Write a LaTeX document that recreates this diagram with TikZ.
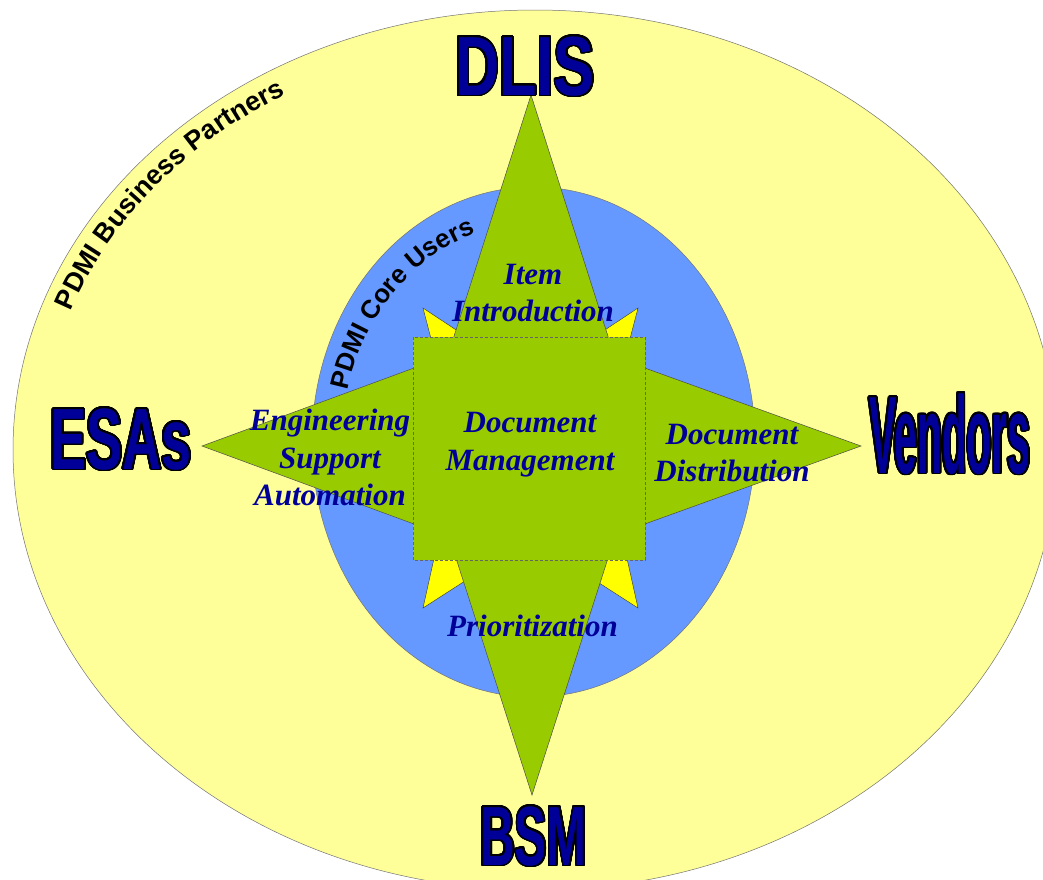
\documentclass[tikz,border=0pt]{standalone}
\usepackage{fontspec}
\setmainfont{Liberation Serif}
\setsansfont{Liberation Sans}
\usepackage[copies]{contour}
\usetikzlibrary{decorations.text}

\definecolor{partner}{HTML}{FFFF99}
\definecolor{core}{HTML}{6699FF}
\definecolor{leaf}{HTML}{99CC00}
\definecolor{flash}{HTML}{FFFF00}
\definecolor{navy}{HTML}{000099}
\contournumber{32}
\newcommand{\bigname}[3]{\fontsize{#1}{#1}\selectfont\contourlength{1.8pt}\contour{black}{\scalebox{#2}[1]{#3}}}
\newcommand{\heavy}[1]{\contourlength{0.9pt}\contour{black}{#1}}

\begin{document}
\begin{tikzpicture}[
  x=1pt,y=-1pt,
  zone/.style={draw=black!55,line width=0.5pt},
  arm/.style={draw=black!70,fill=leaf,line width=0.5pt},
  flare/.style={draw=black!80,fill=flash,line width=0.4pt},
  role/.style={font=\bfseries\itshape\fontsize{31}{37.5}\selectfont,text=navy,align=center,inner sep=0pt},
  party/.style={font=\sffamily\bfseries,text=navy,anchor=base,inner sep=0pt}
]
\useasboundingbox (0,0) rectangle (1043,879);
\clip (0,0) rectangle (1043,879);

\draw[zone,fill=partner] (535,450) ellipse[x radius=522,y radius=440];
\draw[zone,fill=core] (533.5,442) ellipse[x radius=221.5,y radius=255];

\path[decorate,decoration={text along path,text align=center,
  text={|\sffamily\bfseries\fontsize{27}{27}\selectfont\heavy|PDMI Business Partners}}]
  (535,450) ++(189:493 and 412) arc[start angle=189,end angle=249,x radius=493,y radius=412];
\path[decorate,decoration={text along path,text align=center,
  text={|\sffamily\bfseries\fontsize{26}{26}\selectfont\heavy|PDMI Core Users}}]
  (533.5,442) ++(186:191 and 219) arc[start angle=186,end angle=261,x radius=191,y radius=219];

\draw[flare] (423,308) -- (447,400) -- (500,359) -- cycle;
\draw[flare] (638,308) -- (614,400) -- (561,359) -- cycle;
\draw[flare] (423,608) -- (447,500) -- (510,552) -- cycle;
\draw[flare] (638,608) -- (614,500) -- (551,552) -- cycle;

\draw[arm] (531,95) -- (643,446) -- (419,446) -- cycle;
\draw[arm] (532,795) -- (644,446) -- (420,446) -- cycle;
\draw[arm] (202,446) -- (490,340) -- (490,552) -- cycle;
\draw[arm] (861,446) -- (570,341) -- (570,551) -- cycle;

\draw[draw=black!60,densely dashed,line width=0.4pt,fill=leaf] (413,337) rectangle (645,560);

\node[role] (intro) at (533,293) {Item\\Introduction};
\node[role] (docmgmt) at (530,444.5) {Document\\Management};
\node[role] (esa) at (330,457.5) {Engineering\\Support\\Automation};
\node[role] (distrib) at (732,453) {Document\\Distribution};
\node[role] (prio) at (532.5,626) {Prioritization};

\node[party] (dlis) at (525,95) {\bigname{84}{0.73}{DLIS}};
\node[party] (vendors) at (950,473) {\bigname{110}{0.37}{Vendors}};
\node[party] (esas) at (121,469) {\bigname{87}{0.62}{ESAs}};
\node[party] (bsm) at (533.5,865) {\bigname{84}{0.57}{BSM}};
\end{tikzpicture}
\end{document}
